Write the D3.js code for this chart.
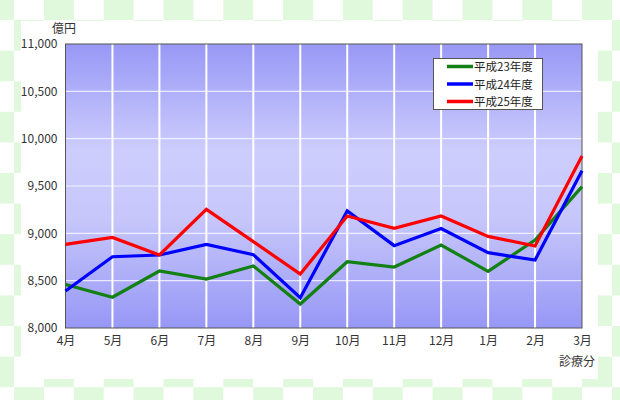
<!DOCTYPE html>
<html><head><meta charset="utf-8">
<script src="https://cdn.jsdelivr.net/npm/d3@7"></script>
<style>html,body{margin:0;padding:0;background:#fff;}svg{display:block;}</style>
</head><body>
<script>
const months = ["4月","5月","6月","7月","8月","9月","10月","11月","12月","1月","2月","3月"];
const seriesNames = ["平成23年度","平成24年度","平成25年度"];
const seriesColors = ["#138013","#0000ff","#ff0000"];
const h23 = [8460,8325,8602,8517,8655,8253,8700,8644,8876,8598,8929,9493];
const h24 = [8391,8753,8771,8884,8775,8320,9236,8870,9050,8796,8718,9662];
const h25 = [8883,8957,8771,9253,8912,8570,9183,9053,9183,8968,8866,9817];
const yTicks = [8000,8500,9000,9500,10000,10500,11000];
const seriesData = [h23,h24,h25];

const W = 620, H = 400;
const font = "'Noto Sans CJK JP','DejaVu Sans',sans-serif";
const svg = d3.select("body").append("svg").attr("width",W).attr("height",H);
const defs = svg.append("defs");

// checker border background
const cw = 29.9, ch = 30.6, ox = 14, oy = 20;
const cells = [];
for (let r = -1; r <= 13; r++) for (let c = -1; c <= 21; c++) {
  if (((r + c) % 2 + 2) % 2 === 0) cells.push({r, c});
}
svg.append("g").selectAll("rect").data(cells).join("rect")
  .attr("x", d => ox + d.c*cw).attr("y", d => oy + d.r*ch)
  .attr("width", cw).attr("height", ch).attr("fill", "#e0f8dc");
svg.append("rect").attr("x",21).attr("y",21).attr("width",577).attr("height",358).attr("fill","#fff");

const x = d3.scalePoint().domain(months).range([65.5, 582]);
const y = d3.scaleLinear().domain([8000, 11000]).range([328, 44]);

const grad = defs.append("linearGradient").attr("id","bg").attr("x1",0).attr("y1",0).attr("x2",0).attr("y2",1);
[[0,"#9898f6"],[0.38,"#cdcdfd"],[0.62,"#c6c6fb"],[1,"#9797f6"]].forEach(s =>
  grad.append("stop").attr("offset", s[0]).attr("stop-color", s[1]));

svg.append("rect").attr("x",65.5).attr("y",44).attr("width",582-65.5).attr("height",328-44)
  .attr("fill","url(#bg)");

// grid
svg.append("g").selectAll("line").data(yTicks.slice(1,-1)).join("line")
  .attr("x1",65.5).attr("x2",582).attr("y1",d=>y(d)).attr("y2",d=>y(d))
  .attr("stroke","#ffffff").attr("stroke-opacity",0.75).attr("stroke-width",1.2);
svg.append("g").selectAll("line").data(months.slice(1,-1)).join("line")
  .attr("x1",d=>x(d)).attr("x2",d=>x(d)).attr("y1",44).attr("y2",328)
  .attr("stroke","#ffffff").attr("stroke-width",2);

svg.append("rect").attr("x",65.5).attr("y",44).attr("width",582-65.5).attr("height",328-44)
  .attr("fill","none").attr("stroke","#555").attr("stroke-width",1);

// axes
const yAxis = d3.axisLeft(y).tickValues(yTicks).tickSize(0).tickPadding(8).tickFormat(d3.format(","));
const ya = svg.append("g").attr("transform","translate(65.5,0)").call(yAxis);
ya.select(".domain").remove();
ya.selectAll("text").attr("font-family",font).attr("font-size",12).attr("fill","#333");

const xAxis = d3.axisBottom(x).tickSize(0).tickPadding(8);
const xa = svg.append("g").attr("transform","translate(0,328)").call(xAxis);
xa.select(".domain").remove();
xa.selectAll("text").attr("font-family",font).attr("font-size",12).attr("fill","#333");

svg.append("text").attr("x",76).attr("y",33).attr("text-anchor","end")
  .attr("font-family",font).attr("font-size",12).attr("fill","#333").text("億円");
svg.append("text").attr("x",595).attr("y",366).attr("text-anchor","end")
  .attr("font-family",font).attr("font-size",12).attr("fill","#333").text("診療分");

// lines
const line = d3.line().x((d,i)=>x(months[i])).y(d=>y(d));
svg.append("g").selectAll("path").data(seriesData).join("path")
  .attr("d", line).attr("fill","none")
  .attr("stroke",(d,i)=>seriesColors[i]).attr("stroke-width",3.2)
  .attr("stroke-linejoin","miter");

// legend
const lg = svg.append("g");
lg.append("rect").attr("x",433.5).attr("y",58.5).attr("width",109).attr("height",51)
  .attr("fill","#fff").attr("stroke","#555").attr("stroke-width",1);
seriesNames.forEach((n,i)=>{
  const yy = 66.5 + i*17.5;
  lg.append("line").attr("x1",447).attr("x2",473).attr("y1",yy).attr("y2",yy)
    .attr("stroke",seriesColors[i]).attr("stroke-width",3.5);
  lg.append("text").attr("x",474).attr("y",yy+4.5).attr("font-family",font)
    .attr("font-size",11.5).attr("fill","#222").text(n);
});
</script>
</body></html>
